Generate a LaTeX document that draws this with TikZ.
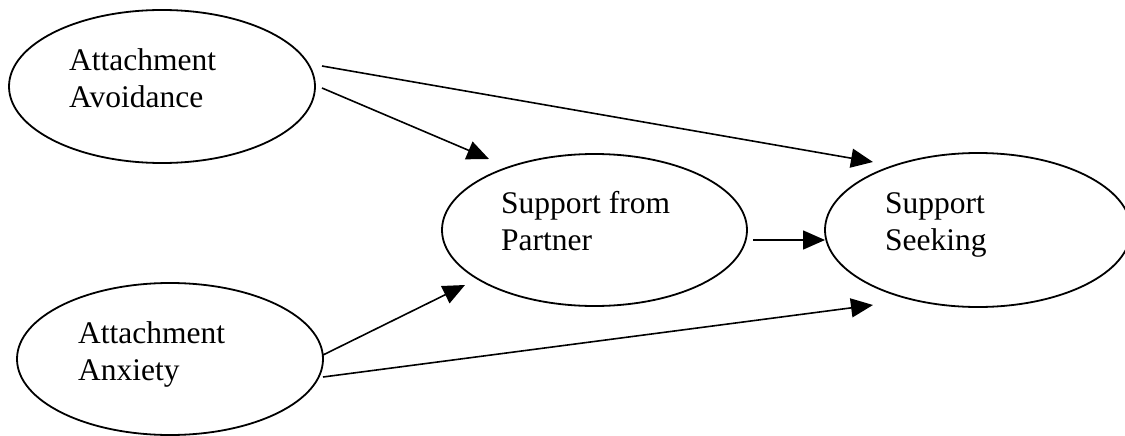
\documentclass[tikz,border=0pt]{standalone}
\usepackage{fontspec}
\setmainfont{Liberation Serif}
\usetikzlibrary{shapes.geometric,arrows.meta}
\begin{document}
\begin{tikzpicture}[x=1pt,y=-1pt,
  construct/.style={draw,ellipse,line width=1.8pt,inner sep=0pt},
  caption/.style={anchor=base west,inner sep=0pt,align=left,
    font=\fontsize{31.5}{37}\selectfont},
  path arrow/.style={line width=1.6pt,-{Triangle[length=22pt,width=19pt]}}]
\useasboundingbox (0,0) rectangle (1125,436);
\clip (0,0) rectangle (1125,436);
% latent constructs
\node[construct,minimum width=306pt,minimum height=153pt] (avoid) at (162,86.5) {};
\node[construct,minimum width=306pt,minimum height=152pt] (anx) at (170,359) {};
\node[construct,minimum width=305pt,minimum height=152pt] (partner) at (594.5,230) {};
\node[construct,minimum width=306pt,minimum height=154pt] (seek) at (978,230) {};
% labels (anchored on the baseline of their last line)
\node[caption] (tavoid) at (69,107) {Attachment\\Avoidance};
\node[caption] (tanx) at (78,380) {Attachment\\Anxiety};
\node[caption] (tpartner) at (501,250) {Support from\\Partner};
\node[caption] (tseek) at (885,250) {Support\\Seeking};
% arrow end points, just clear of the ellipses
\coordinate (p1s) at (322,66);   \coordinate (p1e) at (873,162);
\coordinate (p2s) at (322,88);   \coordinate (p2e) at (489,159);
\coordinate (p3s) at (753,240);  \coordinate (p3e) at (825,240);
\coordinate (p4s) at (323,355);  \coordinate (p4e) at (465,285);
\coordinate (p5s) at (323,377);  \coordinate (p5e) at (873,305);
% paths
\draw[path arrow] (p1s) -- (p1e);
\draw[path arrow] (p2s) -- (p2e);
\draw[path arrow] (p3s) -- (p3e);
\draw[path arrow] (p4s) -- (p4e);
\draw[path arrow] (p5s) -- (p5e);
\end{tikzpicture}
\end{document}
